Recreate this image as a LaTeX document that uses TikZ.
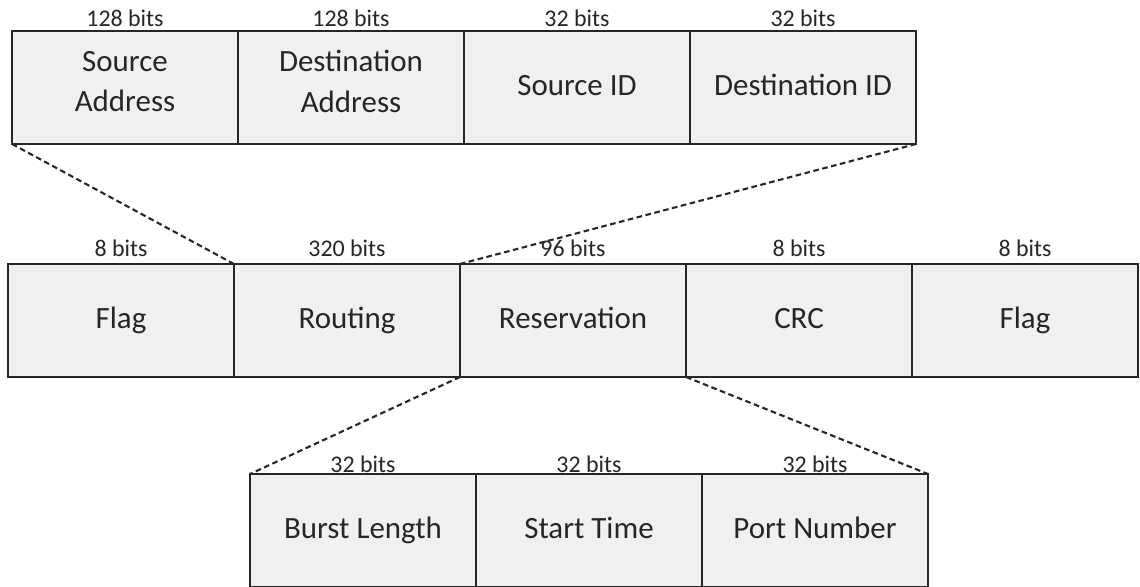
\documentclass[tikz,border=0pt]{standalone}
\usepackage{fontspec}
\setmainfont{Carlito}
\usepackage{tikz}
\usetikzlibrary{positioning, calc}
\definecolor{fieldfill}{HTML}{F0F0F0}
\definecolor{fieldtext}{HTML}{262626}
\tikzset{
    field/.style = {rectangle, draw=black!85, fill=fieldfill, line width=1.4pt, outer sep=0pt,
        minimum width=5.65cm, minimum height=2.825cm, inner sep=0pt, align=center,
        text=fieldtext, font=\fontsize{22}{29}\selectfont,
        execute at begin node=\strut, execute at end node=\strut},
    bits/.style = {anchor=base, inner sep=0pt, text=fieldtext, font=\fontsize{17}{20}\selectfont},
    zoomline/.style = {draw=black!85, line width=1.5pt, dash pattern=on 4pt off 2.5pt},
}

\begin{document}
\begin{tikzpicture}[node distance=0pt]
    \useasboundingbox (0,0) rectangle (28.5,-14.675);

    % upper detail: routing field
    \node [field, anchor=west] (srcaddr) at (0.3,-2.1875) {Source\\Address};
    \node [field, right=of srcaddr] (dstaddr) {Destination\\Address};
    \node [field, right=of dstaddr] (srcid) {Source ID};
    \node [field, right=of srcid] (dstid) {Destination ID};

    % main frame
    \node [field, anchor=west] (flagA) at (0.2,-8.0125) {Flag};
    \node [field, right=of flagA] (routing) {Routing};
    \node [field, right=of routing] (reservation) {Reservation};
    \node [field, right=of reservation] (crc) {CRC};
    \node [field, right=of crc] (flagB) {Flag};

    % lower detail: reservation field
    \node [field, anchor=west] (burst) at (6.25,-13.2625) {Burst Length};
    \node [field, right=of burst] (start) {Start Time};
    \node [field, right=of start] (port) {Port Number};

    % field sizes
    \node [bits] (srcaddr-bits) at ([yshift=0.1cm]srcaddr.north) {128 bits};
    \node [bits] (dstaddr-bits) at ([yshift=0.1cm]dstaddr.north) {128 bits};
    \node [bits] (srcid-bits) at ([yshift=0.1cm]srcid.north) {32 bits};
    \node [bits] (dstid-bits) at ([yshift=0.1cm]dstid.north) {32 bits};

    \node [bits] (flagA-bits) at ([yshift=0.175cm]flagA.north) {8 bits};
    \node [bits] (routing-bits) at ([yshift=0.175cm]routing.north) {320 bits};
    \node [bits] (reservation-bits) at ([yshift=0.175cm]reservation.north) {96 bits};
    \node [bits] (crc-bits) at ([yshift=0.175cm]crc.north) {8 bits};
    \node [bits] (flagB-bits) at ([yshift=0.175cm]flagB.north) {8 bits};

    \node [bits] (burst-bits) at ([yshift=0.03cm]burst.north) {32 bits};
    \node [bits] (start-bits) at ([yshift=0.03cm]start.north) {32 bits};
    \node [bits] (port-bits) at ([yshift=0.03cm]port.north) {32 bits};

    % zoom lines
    \draw [zoomline] (srcaddr.south west) -- (routing.north west);
    \draw [zoomline] (dstid.south east) -- (routing.north east);
    \draw [zoomline] (reservation.south west) -- (burst.north west);
    \draw [zoomline] (reservation.south east) -- (port.north east);
\end{tikzpicture}
\end{document}
